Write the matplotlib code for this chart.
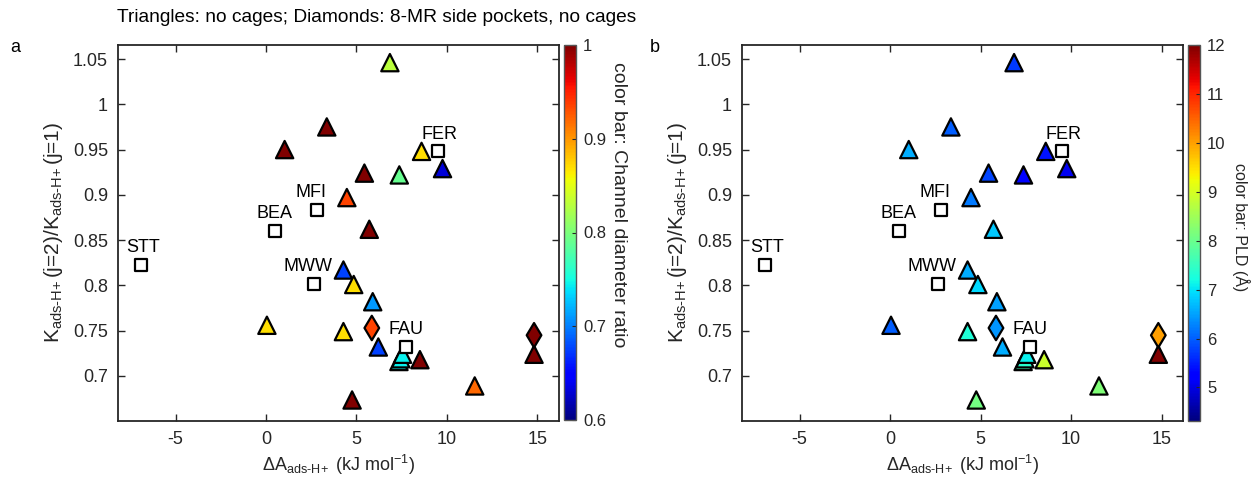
import matplotlib
matplotlib.use("Agg")
import matplotlib.pyplot as plt
import numpy as np

plt.rcParams['font.family'] = ['Liberation Sans', 'DejaVu Sans']
plt.rcParams['mathtext.fontset'] = 'custom'
plt.rcParams['mathtext.rm'] = 'Liberation Sans'
plt.rcParams['mathtext.it'] = 'Liberation Sans:italic'
plt.rcParams['mathtext.default'] = 'regular'

# ---- data ----
# triangles (no cages)
tri_dA = [1.03, 3.36, 4.47, 6.85, 8.60, 9.76, 5.44, 7.37, 5.71, 4.28, 4.85,
          0.05, 4.28, 4.76, 5.90, 6.21, 7.35, 7.45, 7.55, 8.51, 11.54, 14.82]
tri_K = [0.950, 0.975, 0.897, 1.046, 0.948, 0.929, 0.924, 0.922, 0.862, 0.817, 0.801,
         0.756, 0.749, 0.6735, 0.782, 0.732, 0.716, 0.719, 0.724, 0.718, 0.689, 0.724]
tri_ratio = [1.0, 1.0, 0.935, 0.83, 0.87, 0.63, 1.0, 0.79, 1.0, 0.675, 0.87,
             0.87, 0.87, 1.0, 0.71, 0.675, 0.745, 0.745, 0.745, 1.0, 0.92, 1.0]
tri_pld = [6.6, 6.0, 6.2, 5.7, 5.4, 5.1, 5.8, 5.3, 6.8, 6.6, 6.9,
           6.0, 7.3, 8.1, 6.5, 6.6, 7.6, 7.4, 7.1, 8.9, 8.2, 12.0]

# diamonds (8-MR side pockets, no cages)
dia_dA = [5.85, 14.82]
dia_K = [0.753, 0.745]
dia_ratio = [0.935, 1.0]
dia_pld = [6.4, 10.0]

# reference zeolites (open squares)
ref_names = ['STT', 'BEA', 'MFI', 'MWW', 'FER', 'FAU']
ref_dA = [-6.93, 0.47, 2.81, 2.63, 9.49, 7.72]
ref_K = [0.8225, 0.860, 0.883, 0.802, 0.948, 0.7324]
ref_label_dx = [2, 0, -4, -4, 1, 0]   # label offsets (points)

ratio_lim = (0.6, 1.0)
ratio_ticks = [0.6, 0.7, 0.8, 0.9, 1.0]
ratio_ticklabels = ['0.6', '0.7', '0.8', '0.9', '1']
pld_lim = (4.32, 12.0)
pld_ticks = [5, 6, 7, 8, 9, 10, 11, 12]

xticks = [-5, 0, 5, 10, 15]
yticks = [0.7, 0.75, 0.8, 0.85, 0.9, 0.95, 1.0, 1.05]
yticklabels = ['0.7', '0.75', '0.8', '0.85', '0.9', '0.95', '1', '1.05']

W, H = 1254, 483
fig = plt.figure(figsize=(W / 100, H / 100), dpi=100)

tc = '#262626'
fs = 13


def px_axes(x0, y0, x1, y1):
    return [x0 / W, 1 - y1 / H, (x1 - x0) / W, (y1 - y0) / H]


def panel(ax_rect, cb_rect, cvals_t, cvals_d, lim, cticks, cticklabels,
          cb_label, cb_label_pos, cb_label_fs):
    ax = fig.add_axes(px_axes(*ax_rect))
    cax = fig.add_axes(px_axes(*cb_rect))
    norm = matplotlib.colors.Normalize(vmin=lim[0], vmax=lim[1])
    sc = ax.scatter(tri_dA, tri_K, c=cvals_t, cmap='jet', norm=norm, marker='^',
                    s=155, edgecolors='black', linewidths=1.6, zorder=3)
    ax.scatter(dia_dA, dia_K, c=cvals_d, cmap='jet', norm=norm, marker='d',
               s=155, edgecolors='black', linewidths=1.6, zorder=3)
    ax.scatter(ref_dA, ref_K, marker='s', s=75, facecolors='white',
               edgecolors='black', linewidths=1.6, zorder=4)
    for name, x, y, dx in zip(ref_names, ref_dA, ref_K, ref_label_dx):
        ax.annotate(name, (x, y), xytext=(dx, 12.5), textcoords='offset points',
                    ha='center', va='center', fontsize=fs, color='black')
    ax.set_xlim(-8.2, 16.2)
    ax.set_ylim(0.6503, 1.0658)
    ax.set_xticks(xticks)
    ax.set_xticklabels([str(t) for t in xticks])
    ax.set_yticks(yticks)
    ax.set_yticklabels(yticklabels)
    ax.tick_params(direction='in', length=5, width=1.0, top=True, right=True,
                   labelsize=fs, colors=tc, pad=7)
    for sp in ax.spines.values():
        sp.set_color(tc)
        sp.set_linewidth(1.3)
    ax.set_xlabel(r'ΔA$_{ads‐H\!+}$ (kJ mol$^{-1}$)', fontsize=fs, color=tc, labelpad=4)
    ax.set_ylabel(r'K$_{ads‐H\!+}$(j=2)/K$_{ads‐H\!+}$(j=1)', fontsize=15, color=tc,
                  labelpad=6)

    cb = fig.colorbar(sc, cax=cax)
    cb.set_ticks(cticks)
    cb.set_ticklabels(cticklabels)
    cax.tick_params(direction='in', length=3, width=0.8, labelsize=12, colors=tc, pad=5)
    cb.outline.set_edgecolor('#555555')
    cb.outline.set_linewidth(1.0)
    fig.text(cb_label_pos[0] / W, 1 - cb_label_pos[1] / H, cb_label, rotation=270,
             ha='center', va='center', fontsize=cb_label_fs, color=tc)
    return ax


panel((117.7, 44.7, 559, 421), (564, 45, 576, 420), tri_ratio, dia_ratio, ratio_lim,
      ratio_ticks, ratio_ticklabels, 'color bar: Channel diameter ratio', (618, 205), 14)
panel((741.7, 44.7, 1183.3, 421), (1187.5, 45, 1200, 420.7), tri_pld, dia_pld, pld_lim,
      pld_ticks, [str(t) for t in pld_ticks], 'color bar: PLD (Å)', (1241, 227), 11.5)

fig.text(117 / W, 1 - 18 / H, 'Triangles: no cages; Diamonds: 8-MR side pockets, no cages',
         ha='left', va='center', fontsize=13.8, color='black')
fig.text(15 / W, 1 - 48 / H, 'a', ha='center', va='center', fontsize=fs, color='black')
fig.text(655 / W, 1 - 48 / H, 'b', ha='center', va='center', fontsize=fs, color='black')

fig.savefig('out.png', dpi=100)
